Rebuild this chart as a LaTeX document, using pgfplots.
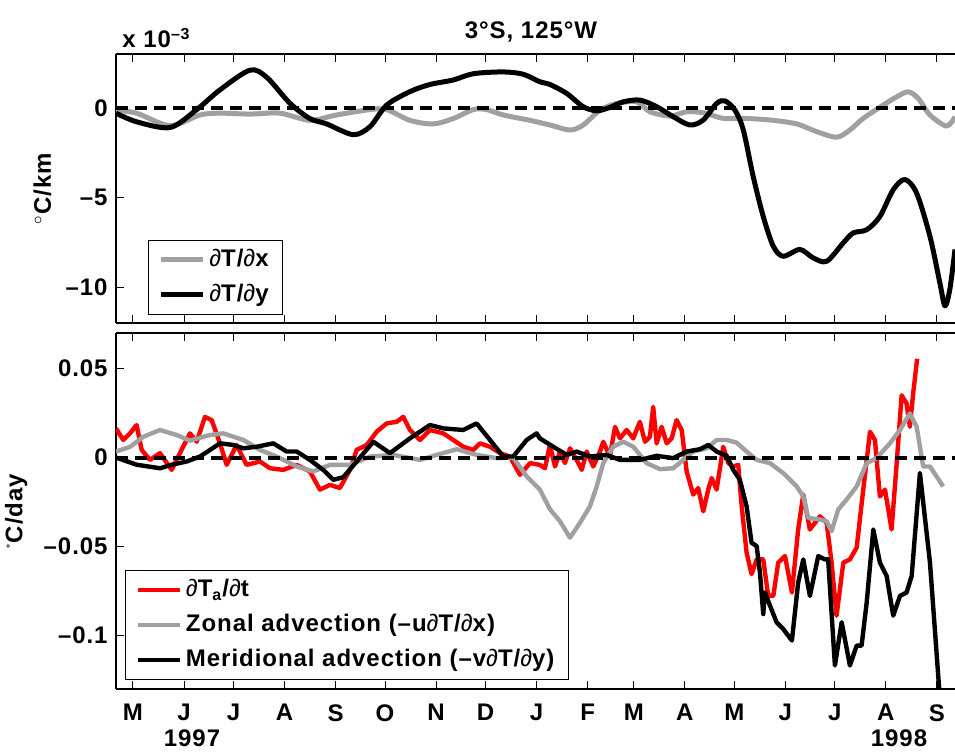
\documentclass[border=0pt]{standalone}
\usepackage{pgfplots}
\pgfplotsset{compat=1.18}
\usepackage{fontspec}
\setmainfont{Liberation Sans}[LetterSpace=4]

\definecolor{lgray}{RGB}{160,160,160}

% month starts, days since 1 Jan 1997
\pgfplotsset{
  panel/.style={
    scale only axis, width=419.5pt,
    xmin=109.7, xmax=619,
    axis x line*=box, axis y line*=left,
    axis line style={-, line width=0.6pt},
    xtick={120,151,181,212,243,273,304,334,365,396,424,455,485,516,546,577,608},
    tick align=inside, major tick length=4pt,
    every tick/.style={black, line width=0.5pt},
    minor tick num=0,
    legend cell align=left,
    legend image code/.code={\draw[#1] (0pt,0pt) -- (21pt,0pt);},
    legend style={draw=black, line width=0.6pt, fill=white,
      inner xsep=5pt, inner ysep=2.5pt, row sep=3pt,
      nodes={inner sep=2pt}},
  },
  zero/.style={black, dashed, dash pattern=on 6pt off 3.5pt, line width=2pt, forget plot},
}

\begin{document}
\fontsize{12}{14}\selectfont\bfseries
\begin{tikzpicture}
\path[use as bounding box] (0,0) rectangle (477.5pt,377pt);

% top panel: gradients (x 10^-3 degC/km)
\begin{axis}[panel, at={(58pt,215.5pt)}, anchor=south west, height=134.5pt,
  ymin=-12, ymax=3,
  ytick={-10,-5,0}, yticklabels={\textendash10,\textendash5,0},
  xticklabels={},
  ylabel={$^\circ$C/km}, ylabel style={yshift=-1pt},
  legend style={at={(0.0378,0.0297)}, anchor=south west}]
\addplot[lgray, line width=2.5pt, smooth, tension=0.5, line join=round] coordinates {
(109.7,-0.15) (122.2,-0.3) (142.5,-1.0) (160.7,-0.4) (172.8,-0.3) (191.0,-0.35)
(209.2,-0.3) (227.4,-0.7) (243.6,-0.4) (263.9,-0.1) (274.0,-0.1) (288.1,-0.7)
(302.3,-0.9) (314.4,-0.6) (326.6,-0.1) (334.7,-0.1) (344.8,-0.4) (361.0,-0.7)
(373.1,-0.96) (385.3,-1.24) (393.3,-0.96) (403.5,-0.13) (413.6,0.24) (425.7,0.33)
(433.8,-0.22) (446.0,-0.46) (456.1,-0.22) (466.2,-0.28) (478.3,-0.59) (490.5,-0.59)
(506.7,-0.68) (522.9,-0.9) (535.0,-1.33) (547.1,-1.64) (555.2,-1.24) (563.3,-0.59)
(575.4,0.15) (583.6,0.61) (590.6,0.89) (596.7,0.52) (603.8,-0.4) (613.9,-1.02)
(619.0,-0.5)};
\addlegendentry{{\mdseries ∂}T/{\mdseries ∂}x}
\addplot[black, line width=2.5pt, smooth, tension=0.5, line join=round] coordinates {
(109.7,-0.3) (122.2,-0.78) (142.5,-1.1) (158.7,-0.1) (172.8,1.0) (191.0,2.1)
(201.2,1.7) (215.3,0.25) (227.4,-0.6) (237.6,-0.9) (253.7,-1.5) (263.9,-1.05)
(274.0,0.15) (288.1,0.9) (300.3,1.3) (314.4,1.55) (326.6,1.9) (344.8,2.0)
(356.9,1.87) (367.0,1.45) (373.1,1.3) (383.3,0.8) (393.3,0.06) (401.5,-0.17)
(409.5,0.02) (417.6,0.33) (427.7,0.43) (437.9,0.06) (448.0,-0.5) (458.1,-0.96)
(466.2,-0.68) (474.3,0.24) (479.3,0.39) (485.4,-0.13) (490.5,-1.24) (496.5,-3.83)
(502.6,-6.06) (508.7,-7.72) (514.7,-8.28) (524.9,-7.9) (532.9,-8.37) (541.1,-8.56)
(551.2,-7.53) (557.2,-6.98) (565.4,-6.8) (573.4,-6.06) (581.5,-4.57) (588.6,-4.0)
(595.7,-4.76) (603.8,-7.17) (609.8,-9.76) (612.9,-11.05) (615.9,-10.1) (619.0,-7.9)};
\addlegendentry{{\mdseries ∂}T/{\mdseries ∂}y}
\addplot[zero] coordinates {(109.7,0) (619,0)};
\end{axis}

% bottom panel: tendency and advection (degC/day)
\begin{axis}[panel, at={(58pt,32.5pt)}, anchor=south west, height=178pt,
  ymin=-0.13, ymax=0.07,
  ytick={-0.1,-0.05,0,0.05}, yticklabels={\textendash0.1,\textendash0.05,0,0.05},
  xticklabels={M,J,J,A,S,O,N,D,J,F,M,A,M,J,J,A,S},
  xticklabel style={yshift=-3.5pt},
  ylabel={\textsuperscript{\tiny\textdegree}C/day},
  legend style={at={(0.0107,0.0253)}, anchor=south west}]
\addplot[red, line width=2.2pt, line join=round] coordinates {
(109.7,0.0164) (114.1,0.0099) (118.2,0.0136) (122.2,0.0183) (125.3,0.0043) (130.3,-0.0013)
(136.4,0.0025) (143.5,-0.0069) (148.5,0.0025) (154.6,0.0136) (158.7,0.0089) (163.7,0.0229)
(167.8,0.021) (172.8,0.008) (176.9,-0.0041) (182.9,0.0071) (189.0,-0.0041) (197.1,-0.0022)
(203.2,-0.006) (211.2,-0.0069) (219.4,-0.0041) (227.4,-0.0078) (233.5,-0.018) (239.6,-0.0153)
(245.6,-0.0171) (251.7,-0.0069) (255.8,0.0043) (261.9,0.0071) (267.9,0.0145) (274.0,0.0192)
(280.1,0.0201) (284.1,0.0229) (288.1,0.0155) (294.2,0.0099) (300.3,0.0155) (308.4,0.0136)
(314.4,0.0099) (320.5,0.0061) (326.6,0.0043) (330.6,0.008) (336.7,0.0061) (342.8,0.0025)
(348.8,0.0006) (354.9,-0.0097) (361.0,-0.0031) (367.0,-0.0041) (370.1,-0.006) (373.1,0.0071)
(376.2,-0.005) (379.2,0.0034) (382.2,-0.0031) (385.3,0.0052) (389.3,-0.0013) (392.4,-0.0069)
(395.4,0.0034) (399.4,-0.005) (403.5,0.0034) (405.5,0.0089) (409.5,0.0006) (412.6,0.0173)
(415.6,0.0108) (419.7,0.0155) (423.7,0.0108) (427.7,0.0201) (430.8,0.0089) (433.8,0.0117)
(435.8,0.0285) (437.9,0.008) (440.9,0.0173) (444.0,0.008) (447.0,0.0108) (450.0,0.0211)
(453.1,0.0155) (456.1,-0.0078) (460.1,-0.0208) (463.1,-0.0171) (466.2,-0.0302) (469.2,-0.018)
(471.3,-0.0115) (474.3,-0.018) (476.3,-0.006) (478.3,0.0061) (481.4,-0.0031) (484.4,-0.005)
(487.4,-0.0041) (489.5,-0.0274) (492.5,-0.0534) (495.5,-0.0655) (498.6,-0.0572) (502.6,-0.0572)
(505.6,-0.0777) (508.7,-0.0777) (511.7,-0.059) (515.8,-0.0553) (520.0,-0.0758) (523.8,-0.0404)
(526.9,-0.0208) (530.9,-0.0404) (537.0,-0.033) (541.1,-0.0367) (544.1,-0.059) (547.1,-0.0888)
(551.2,-0.059) (555.2,-0.0572) (559.3,-0.0506) (563.3,-0.018) (567.4,0.0145) (570.4,0.0099)
(573.4,-0.0218) (576.5,-0.018) (580.5,-0.0404) (583.6,-0.0031) (586.6,0.035) (589.6,0.0304)
(591.6,0.0173) (593.6,0.036) (596.0,0.0555)};
\addlegendentry{{\mdseries ∂}T\textsubscript{a}/{\mdseries ∂}t}
\addplot[lgray, line width=2.2pt, line join=round] coordinates {
(109.7,0.0034) (118.2,0.006) (126.3,0.0117) (136.4,0.0155) (146.5,0.0127) (154.6,0.0095)
(166.7,0.0127) (174.8,0.0136) (187.0,0.0099) (197.1,0.0043) (207.2,0.0006) (219.4,-0.005)
(229.4,-0.0078) (239.6,-0.0041) (251.7,-0.0041) (263.9,0.0006) (278.0,0.0015) (294.2,-0.0013)
(304.3,0.0015) (316.5,0.0047) (328.6,0.0015) (340.8,-0.0003) (350.8,0) (359.0,-0.0106)
(367.0,-0.018) (373.1,-0.029) (379.2,-0.0358) (385.3,-0.045) (391.3,-0.0367) (397.4,-0.0274)
(401.5,-0.0162) (405.5,-0.0031) (411.5,0.0061) (417.6,0.0089) (423.7,0.0061) (431.8,-0.0031)
(439.9,-0.0065) (448.0,-0.006) (454.0,-0.0013) (460.1,0.0034) (468.2,0.0052) (474.3,0.0099)
(480.4,0.0099) (486.4,0.0084) (492.5,0.0034) (498.6,-0.0013) (506.7,-0.0031) (514.7,-0.0087)
(522.9,-0.0162) (526.9,-0.0218) (529.9,-0.0339) (537.0,-0.0348) (541.1,-0.0358) (544.1,-0.0413)
(548.1,-0.0292) (553.2,-0.0236) (559.3,-0.0162) (565.4,-0.0031) (571.4,-0.0003) (579.5,0.008)
(585.6,0.0155) (591.6,0.0248) (595.7,0.0173) (599.7,-0.005) (603.8,-0.005) (611.8,-0.0162)};
\addlegendentry{Zonal advection (\textendash u{\mdseries ∂}T/{\mdseries ∂}x)}
\addplot[black, line width=2.2pt, line join=round] coordinates {
(109.7,0) (122.2,-0.004) (136.4,-0.006) (143.5,-0.004) (152.6,-0.0022) (160.7,0.0006)
(172.8,0.008) (180.9,0.0071) (187.0,0.0052) (195.1,0.0061) (205.2,0.008) (213.3,0.0034)
(219.4,0.0034) (227.4,-0.0013) (235.5,-0.0069) (241.6,-0.0125) (247.7,-0.011) (255.8,-0.0022)
(265.9,0.0089) (276.0,0.0025) (288.1,0.0108) (300.3,0.0183) (308.4,0.0164) (320.5,0.0155)
(328.6,0.0192) (336.7,0.0099) (344.8,0.0006) (350.8,0.0006) (359.0,0.0099) (365.0,0.0136)
(367.0,0.0108) (375.1,0.0061) (383.3,0.0015) (389.3,0.0034) (397.4,0.0006) (407.5,0.0015)
(415.6,-0.0013) (427.7,-0.0013) (437.9,0.001) (448.0,-0.0003) (456.1,0.0034) (464.2,0.0047)
(469.2,0.0071) (474.3,0.0034) (480.4,0.001) (484.4,-0.0069) (488.4,-0.0125) (492.5,-0.0274)
(495.5,-0.0478) (498.6,-0.0497) (500.6,-0.0646) (502.6,-0.0879) (503.6,-0.0758) (506.7,-0.0832)
(510.7,-0.0925) (514.7,-0.0963) (520.0,-0.1028) (523.8,-0.0702) (526.9,-0.0572) (530.9,-0.0777)
(536.0,-0.0553) (540.0,-0.0572) (542.0,-0.0572) (546.1,-0.1168) (550.2,-0.0925) (555.2,-0.1168)
(559.3,-0.1056) (562.3,-0.1056) (565.4,-0.0813) (569.4,-0.0404) (573.4,-0.059) (577.5,-0.0665)
(581.5,-0.0888) (585.6,-0.0777) (589.6,-0.0758) (592.7,-0.0665) (597.7,-0.0087) (603.8,-0.059)
(609.8,-0.135)};
\addlegendentry{Meridional advection (\textendash v{\mdseries ∂}T/{\mdseries ∂}y)}
\addplot[zero] coordinates {(109.7,0) (619,0)};
\end{axis}

\node at (265.5pt,361pt) {3\textdegree S, 125\textdegree W};
\node[anchor=west] at (57pt,358pt) {x 10\textsuperscript{\textendash3}};
\node at (96pt,8pt) {1997};
\node at (449.5pt,8pt) {1998};
\end{tikzpicture}
\end{document}
